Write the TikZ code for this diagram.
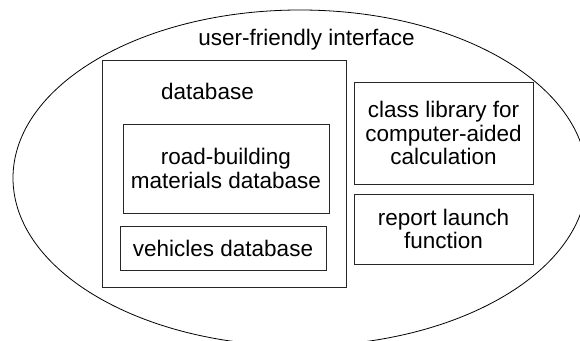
\documentclass[tikz,border=0pt]{standalone}
\usepackage{fontspec}
\setmainfont{Liberation Sans}

\begin{document}
\begin{tikzpicture}[x=1pt, y=-1pt,
        box/.style={draw=black!85, line width=0.8pt, align=center, inner sep=0pt},
        label_node/.style={font=\fontsize{22.5}{23.5}\selectfont, align=center}
    ]
    \useasboundingbox (0,0) rectangle (580,340);

    % --- Interfaccia (ellisse esterna) ---
    \draw[line width=0.8pt] (300,178) ellipse [x radius=287, y radius=168];
    \node[label_node] (ui) at (306.5,40) {user-friendly interface};

    % --- Blocco database ---
    \node[box, minimum width=244, minimum height=227] (db) at (224,173.5) {};
    \node[label_node] (dbl) at (207.5,91) {database};

    \node[box, label_node, minimum width=206, minimum height=89] (road) at (226,168.5)
        {road-building\\materials database};
    \node[box, label_node, minimum width=206, minimum height=44] (veh) at (223,248)
        {vehicles database};

    % --- Colonna destra ---
    \node[box, label_node, minimum width=179, minimum height=102] (cls) at (443.5,133)
        {class library for\\computer-aided\\calculation};
    \node[box, label_node, minimum width=179, minimum height=70] (rep) at (443.5,229)
        {report launch\\function};

\end{tikzpicture}
\end{document}
